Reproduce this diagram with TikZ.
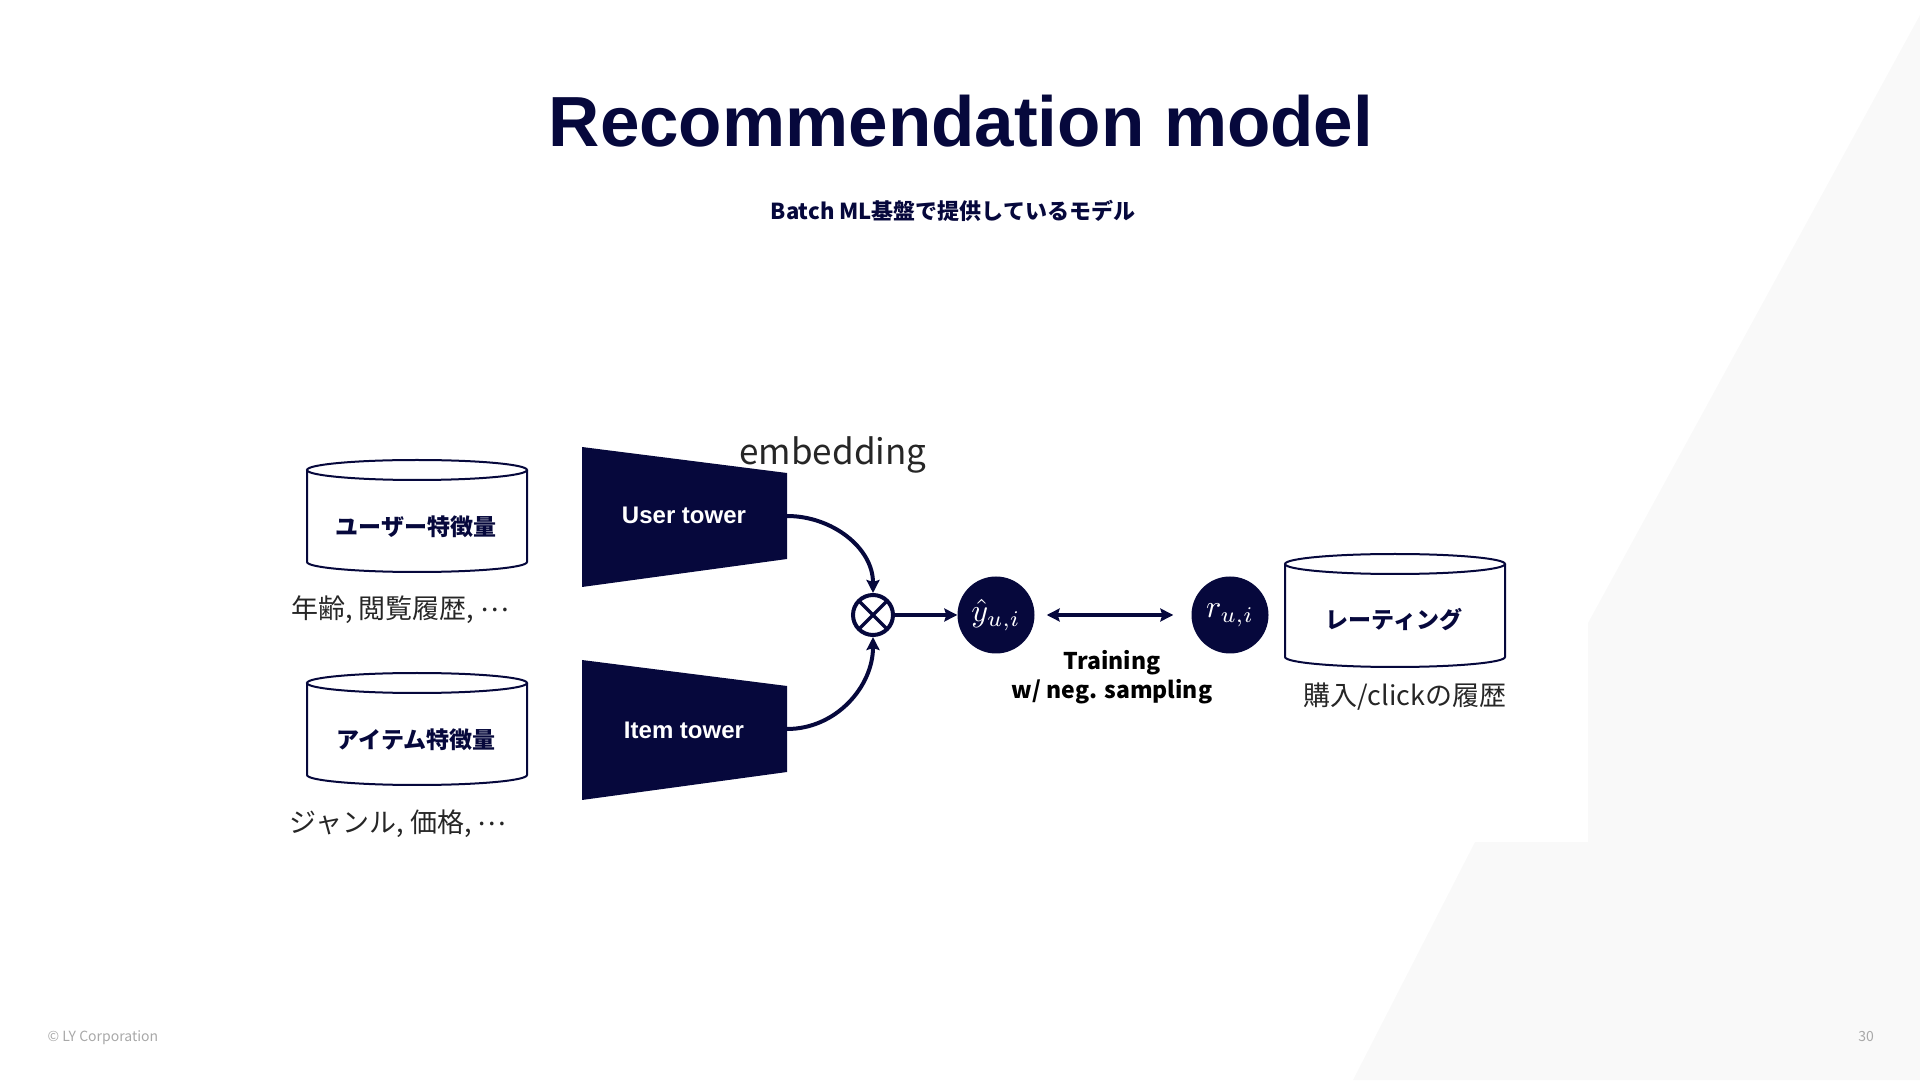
\documentclass[tikz,border=0pt]{standalone}
\usepackage{graphicx}
\usepackage{fontspec}
\setmainfont{Noto Sans CJK JP}
\newfontfamily\arialfont{Liberation Sans}
\usetikzlibrary{arrows.meta,positioning}

\definecolor{navy}{HTML}{06083C}
\definecolor{bggray}{HTML}{F9F9F9}
\definecolor{footgray}{HTML}{A8A8A8}

\newcommand{\middots}{\raisebox{0.28em}{…}}

\tikzset{
  db/.style={draw=navy,line width=2pt,fill=white},
  dbtext/.style={font=\fontsize{23}{27}\selectfont\bfseries,text=navy},
  note/.style={font=\fontsize{27}{32}\selectfont,text=black!85},
  tower/.style={fill=navy},
  towertext/.style={font=\arialfont\fontsize{24}{28}\selectfont\bfseries,text=white},
  tip/.tip={Stealth[length=13pt,width=13pt,inset=2pt]},
  conn/.style={navy,line width=4pt,-tip},
  score/.style={circle,fill=navy,minimum size=77pt,inner sep=0pt,text=white},
}

\begin{document}
\begin{tikzpicture}[x=1pt,y=1pt]
 \useasboundingbox (0,0) rectangle (1920,1080);
 % background
 \fill[bggray] (1920,1065) -- (1588,457) -- (1588,238) -- (1475,238)
               -- (1353,0) -- (1920,0) -- cycle;
 % title
 \node[font=\arialfont\fontsize{71}{84}\selectfont\bfseries,text=navy] (title)
      at (961,959) {Recommendation model};
 \node[font=\fontsize{22}{26}\selectfont\bfseries,text=navy] (subtitle)
      at (953,869) {Batch ML基盤で提供しているモデル};
 % user features
 \draw[db] (307,610) -- (307,518) arc (180:360:110pt and 10pt) -- (527,610);
 \draw[db] (417,610) ellipse (110pt and 10pt);
 \node[dbtext] (userdb) at (416,553) {ユーザー特徴量};
 \node[note] (usernote) at (400,470) {年齢, 閲覧履歴, \middots};
 % item features
 \draw[db] (307,397) -- (307,305) arc (180:360:110pt and 10pt) -- (527,397);
 \draw[db] (417,397) ellipse (110pt and 10pt);
 \node[dbtext] (itemdb) at (416,340) {アイテム特徴量};
 \node[note] (itemnote) at (398,256) {ジャンル, 価格, \middots};
 % towers
 \fill[tower] (582,633) -- (787,607) -- (787,521) -- (582,493) -- cycle;
 \node[towertext] (usertower) at (684,565) {User tower};
 \coordinate (userout) at (787,564);
 \fill[tower] (582,420) -- (787,394) -- (787,308) -- (582,280) -- cycle;
 \node[towertext] (itemtower) at (684,350) {Item tower};
 \coordinate (itemout) at (787,351);
 \node[font=\fontsize{35}{40}\selectfont,text=black!85] (emb) at (833,625) {embedding};
 % product
 \node[circle,draw=navy,line width=4pt,minimum size=40pt,inner sep=0pt] (prod) at (873,465) {};
 \draw[navy,line width=3.5pt] (prod.center) ++(135:20pt) -- ++(-45:40pt);
 \draw[navy,line width=3.5pt] (prod.center) ++(45:20pt) -- ++(-135:40pt);
 % scores
 \node[score] (yhat) at (996,465) {\scalebox{3.2}{$\hat{y}_{u,i}$}};
 \node[score] (rui) at (1230,465) {\scalebox{3.2}{$r_{u,i}$}};
 % connectors
 \draw[conn] (userout) to[out=0,in=90] (prod.north);
 \draw[conn] (itemout) to[out=0,in=-90] (prod.south);
 \draw[conn] (prod.east) -- (yhat.west);
 \draw[conn,tip-tip,shorten <=12pt,shorten >=18pt] (yhat.east) -- (rui.west);
 \node[font=\fontsize{23}{29}\selectfont\bfseries,align=center,text=black] (train)
      at (1112,403) {Training\\w/ neg. sampling};
 % ratings
 \draw[db] (1285,516) -- (1285,423) arc (180:360:110pt and 10pt) -- (1505,516);
 \draw[db] (1395,516) ellipse (110pt and 10pt);
 \node[dbtext] (ratingdb) at (1394,460) {レーティング};
 \node[note] (ratingnote) at (1405,383) {購入/clickの履歴};
 % footer
 \node[font=\fontsize{14}{16}\selectfont,text=footgray,anchor=west] (copy) at (44,42) {© LY Corporation};
 \node[font=\fontsize{14}{16}\selectfont,text=footgray] (page) at (1866,43) {30};
\end{tikzpicture}
\end{document}
